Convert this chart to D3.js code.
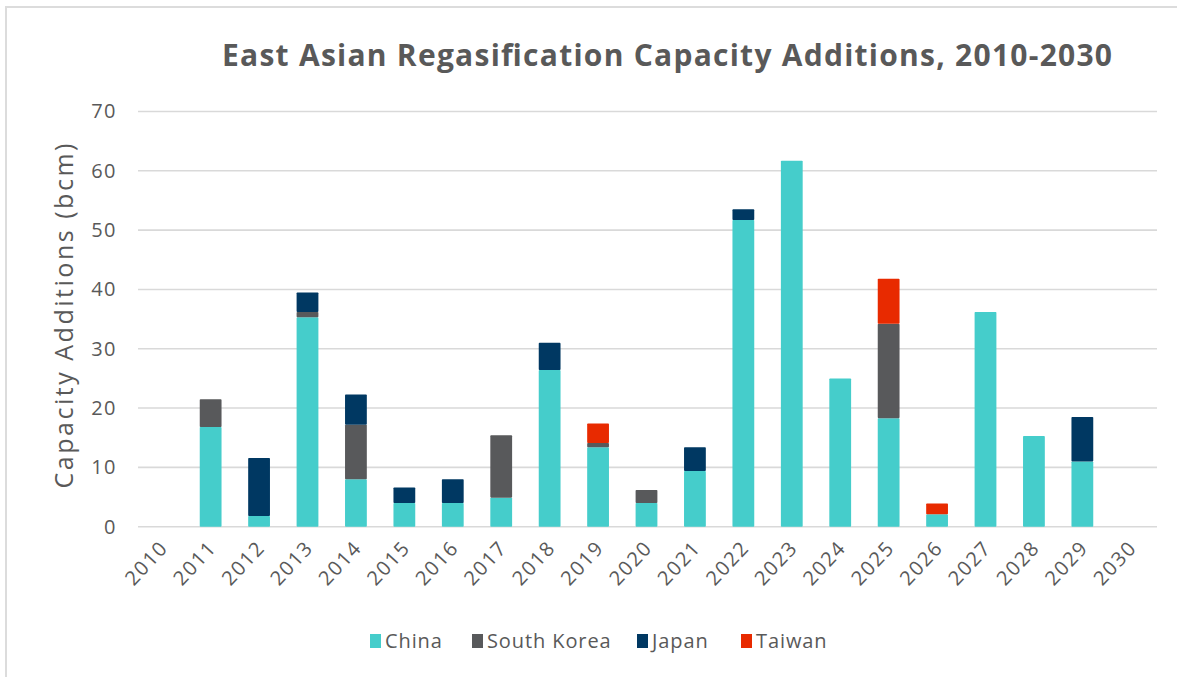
<!DOCTYPE html>
<html>
<head>
<meta charset="utf-8">
<script src="https://cdn.jsdelivr.net/npm/d3@7"></script>
<style>
  html, body { margin: 0; padding: 0; background: #fff; }
  svg { display: block; font-family: "Open Sans", "Noto Sans", sans-serif; }
</style>
</head>
<body>
<svg id="chart" width="1177" height="677"></svg>
<script>
// Regasification capacity additions by year (bcm)
const years = ["2010","2011","2012","2013","2014","2015","2016","2017","2018","2019","2020",
               "2021","2022","2023","2024","2025","2026","2027","2028","2029","2030"];
const china      = [0, 16.8, 1.8, 35.3, 8.0, 4.0, 4.0, 4.9, 26.4, 13.4, 4.0, 9.4, 51.7, 61.7, 25.0, 18.3, 2.1, 36.2, 15.3, 11.0, 0];
const southKorea = [0, 4.7, 0, 0.9, 9.2, 0, 0, 10.5, 0, 0.7, 2.2, 0, 0, 0, 0, 15.9, 0, 0, 0, 0, 0];
const japan      = [0, 0, 9.8, 3.3, 5.1, 2.6, 4.0, 0, 4.6, 0, 0, 4.0, 1.8, 0, 0, 0, 0, 0, 0, 7.5, 0];
const taiwan     = [0, 0, 0, 0, 0, 0, 0, 0, 0, 3.3, 0, 0, 0, 0, 0, 7.6, 1.8, 0, 0, 0, 0];
const seriesNames = ["China", "South Korea", "Japan", "Taiwan"];
const yTicks = [0, 10, 20, 30, 40, 50, 60, 70];

const colors = ["#45CDCB", "#58595B", "#003862", "#E82A00"];
const seriesValues = [china, southKorea, japan, taiwan];

const rows = years.map((y, i) => {
  const r = { year: y };
  seriesNames.forEach((s, k) => { r[s] = seriesValues[k][i]; });
  return r;
});

const svg = d3.select("#chart");
const textGray = "#595959";

// outer frame
svg.append("path")
  .attr("d", "M6,677 V7 H1177")
  .attr("fill", "none")
  .attr("stroke", "#DCDCDC")
  .attr("stroke-width", 2);

const margin = { left: 138, right: 1155, top: 111.5, bottom: 526.7 };

const x = d3.scaleBand().domain(years).range([margin.left, margin.right]).paddingInner(0.55).paddingOuter(0.275);
const y = d3.scaleLinear().domain([0, 70]).range([margin.bottom, margin.top]);

// gridlines
svg.append("g")
  .selectAll("line")
  .data(yTicks)
  .join("line")
  .attr("x1", margin.left)
  .attr("x2", margin.right + 2)
  .attr("y1", d => y(d))
  .attr("y2", d => y(d))
  .attr("stroke", "#D9D9D9")
  .attr("stroke-width", 1.6);

// y axis labels
const yAxis = d3.axisLeft(y).tickValues(yTicks).tickSize(0).tickPadding(0);
const gy = svg.append("g").attr("transform", `translate(${margin.left - 21},0)`).call(yAxis);
gy.select(".domain").remove();
gy.selectAll("text")
  .attr("fill", textGray)
  .style("font-size", "20px")
  .style("letter-spacing", "1.5px")
  .style("font-family", "'Open Sans', sans-serif");

// x axis labels
const xAxis = d3.axisBottom(x).tickSize(0).tickPadding(0);
const gx = svg.append("g").attr("transform", `translate(0,${margin.bottom})`).call(xAxis);
gx.select(".domain").remove();
gx.selectAll("text")
  .attr("fill", textGray)
  .style("font-size", "20px")
  .style("letter-spacing", "1.6px")
  .style("font-family", "'Open Sans', sans-serif")
  .attr("text-anchor", "end")
  .attr("dy", 0)
  .attr("y", 0)
  .attr("transform", "translate(7,22) rotate(-47)");

// stacked bars
const stack = d3.stack().keys(seriesNames);
const layers = stack(rows);

svg.append("g")
  .selectAll("g")
  .data(layers)
  .join("g")
  .attr("fill", (d, i) => colors[i])
  .selectAll("rect")
  .data(d => d.filter(v => v[1] - v[0] > 0))
  .join("rect")
  .attr("x", d => x(d.data.year))
  .attr("width", x.bandwidth())
  .attr("y", d => y(d[1]))
  .attr("height", d => y(d[0]) - y(d[1]))
  .attr("rx", 0.8);

// y axis title
svg.append("text")
  .attr("transform", `translate(73,316) rotate(-90)`)
  .attr("text-anchor", "middle")
  .attr("fill", textGray)
  .style("font-size", "25px")
  .attr("textLength", 345)
  .attr("lengthAdjust", "spacing")
  .text("Capacity Additions (bcm)");

// chart title
svg.append("text")
  .attr("x", 667)
  .attr("y", 66)
  .attr("text-anchor", "middle")
  .attr("fill", textGray)
  .style("font-size", "30px")
  .style("font-weight", "bold")
  .attr("textLength", 890)
  .attr("lengthAdjust", "spacing")
  .text("East Asian Regasification Capacity Additions, 2010-2030");

// legend
const legendX = [370, 472, 637, 741];
const legend = svg.append("g");
seriesNames.forEach((s, i) => {
  const g = legend.append("g").attr("transform", `translate(${legendX[i]},634)`);
  g.append("rect").attr("width", 11).attr("height", 14).attr("fill", colors[i]);
  g.append("text")
    .attr("x", 15)
    .attr("y", 14)
    .attr("fill", textGray)
    .style("font-size", "20px")
    .style("letter-spacing", "0.9px")
    .text(s);
});
</script>
</body>
</html>
